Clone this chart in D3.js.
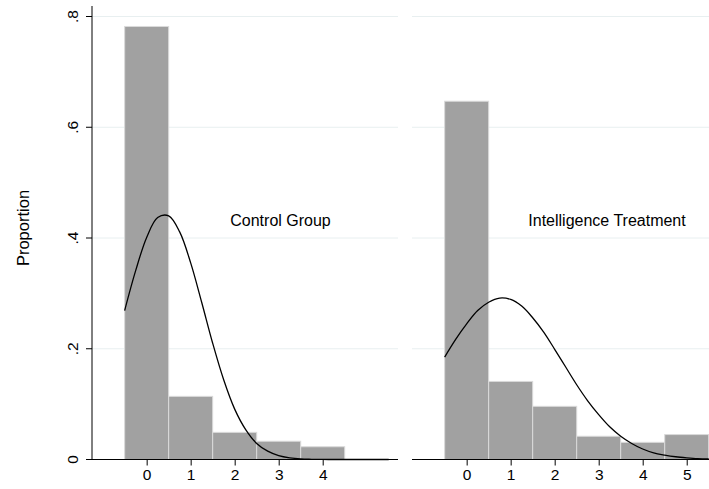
<!DOCTYPE html>
<html>
<head>
<meta charset="utf-8">
<script src="https://cdn.jsdelivr.net/npm/d3@7"></script>
<style>
  html, body { margin: 0; padding: 0; background: #fff; }
  svg { display: block; font-family: "Liberation Sans", Arial, sans-serif; }
</style>
</head>
<body>
<svg id="chart" width="709" height="489"></svg>
<script>
// histogram proportions per group (bins centred on integer values)
const controlBins = [0, 1, 2, 3, 4];
const controlProp = [0.782, 0.114, 0.049, 0.033, 0.023];
const treatBins = [0, 1, 2, 3, 4, 5];
const treatProp = [0.647, 0.141, 0.096, 0.042, 0.031, 0.045];

// overlaid density curves
const curveX = [-0.5, -0.25, 0, 0.25, 0.5, 0.75, 1, 1.25, 1.5, 1.75, 2, 2.25, 2.5,
  2.75, 3, 3.25, 3.5, 3.75, 4, 4.25, 4.5, 4.75, 5, 5.25, 5.5];
const controlCurve = [0.269, 0.341, 0.401, 0.437, 0.440, 0.411, 0.355, 0.284, 0.210,
  0.144, 0.091, 0.054, 0.029, 0.015, 0.007, 0.003, 0.001, 0.0004, 0.0001, 0, 0, 0, 0, 0, 0];
const treatCurve = [0.185, 0.217, 0.245, 0.269, 0.284, 0.2915, 0.289, 0.277, 0.256,
  0.230, 0.199, 0.167, 0.135, 0.106, 0.081, 0.059, 0.042, 0.029, 0.019, 0.012, 0.008,
  0.005, 0.003, 0.0015, 0.001];

const yTicks = [0, 0.2, 0.4, 0.6, 0.8];
const yTickLabels = ['0', '.2', '.4', '.6', '.8'];
const controlXTicks = [0, 1, 2, 3, 4];
const treatXTicks = [0, 1, 2, 3, 4, 5];
const groupNames = ['Control Group', 'Intelligence Treatment'];

const svg = d3.select('#chart');

const panelW = 306;
const x = d3.scaleLinear().domain([-1.242, 5.711]).range([0, panelW]);
const y = d3.scaleLinear().domain([0, 0.8]).range([459.5, 16.5]);
const plotTop = 6;

const panels = [
  { left: 92, bins: controlBins, prop: controlProp, curve: controlCurve, ticks: controlXTicks,
    name: groupNames[0], labelX: 188.5, yAxis: true },
  { left: 412, bins: treatBins, prop: treatProp, curve: treatCurve, ticks: treatXTicks,
    name: groupNames[1], labelX: 195, yAxis: false }
];

const line = d3.line()
  .x(d => x(d[0]))
  .y(d => y(d[1]))
  .curve(d3.curveCatmullRom.alpha(0.5));

panels.forEach(p => {
  const g = svg.append('g').attr('transform', `translate(${p.left},0)`);

  // grid lines
  g.selectAll('line.grid')
    .data(yTicks.slice(1))
    .join('line')
    .attr('class', 'grid')
    .attr('x1', 0).attr('x2', panelW)
    .attr('y1', d => y(d)).attr('y2', d => y(d))
    .attr('stroke', '#e8eff0')
    .attr('stroke-width', 1);

  // bars
  g.selectAll('rect.bar')
    .data(p.bins.map((b, i) => ({ b, v: p.prop[i] })))
    .join('rect')
    .attr('class', 'bar')
    .attr('x', d => x(d.b - 0.5))
    .attr('width', d => x(d.b + 0.5) - x(d.b - 0.5))
    .attr('y', d => y(d.v))
    .attr('height', d => y(0) - y(d.v))
    .attr('fill', '#a1a1a1')
    .attr('stroke', '#dadada')
    .attr('stroke-width', 1);

  // density curve
  g.append('path')
    .datum(curveX.map((cx, i) => [cx, p.curve[i]]))
    .attr('d', line)
    .attr('fill', 'none')
    .attr('stroke', '#000')
    .attr('stroke-width', 1.3);

  // x axis
  const xAxis = d3.axisBottom(x)
    .tickValues(p.ticks)
    .tickFormat(d3.format('d'))
    .tickSize(6)
    .tickPadding(3);
  const ax = g.append('g')
    .attr('transform', `translate(0,${y(0)})`)
    .call(xAxis);
  ax.select('.domain').remove();
  ax.append('line')
    .attr('x1', p.yAxis ? -6 : 0).attr('x2', panelW)
    .attr('stroke', '#000').attr('stroke-width', 1);
  ax.selectAll('.tick line').attr('stroke', '#000');
  ax.selectAll('.tick text')
    .attr('fill', '#000')
    .style('font-size', '15.5px')
    .style('font-family', '"Liberation Sans", Arial, sans-serif');

  // y axis
  if (p.yAxis) {
    const ay = g.append('g');
    ay.append('line')
      .attr('x1', 0).attr('x2', 0)
      .attr('y1', plotTop).attr('y2', y(0))
      .attr('stroke', '#000');
    const t = ay.selectAll('g.ytick')
      .data(yTicks)
      .join('g')
      .attr('class', 'ytick')
      .attr('transform', d => `translate(0,${y(d)})`);
    t.append('line').attr('x1', -6).attr('x2', 0).attr('stroke', '#000');
    t.append('text')
      .attr('transform', 'translate(-14,0) rotate(-90)')
      .attr('text-anchor', 'middle')
      .style('font-size', '15.5px')
      .text((d, i) => yTickLabels[i]);
  }

  // group label
  g.append('text')
    .attr('x', p.labelX)
    .attr('y', 226)
    .attr('text-anchor', 'middle')
    .style('font-size', '16px')
    .text(p.name);
});

svg.append('text')
  .attr('transform', 'translate(29,228) rotate(-90)')
  .attr('text-anchor', 'middle')
  .style('font-size', '16.5px')
  .text('Proportion');
</script>
</body>
</html>
